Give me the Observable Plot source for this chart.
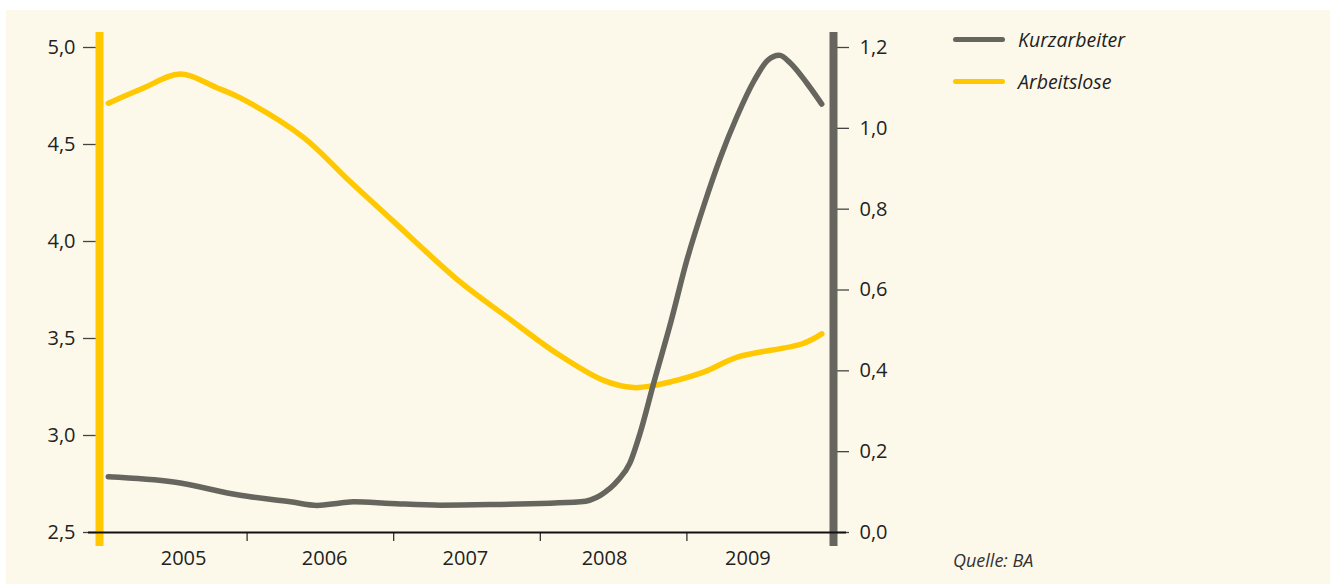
<!DOCTYPE html>
<html>
<head>
<meta charset="utf-8">
<script src="https://cdn.jsdelivr.net/npm/d3@7"></script>
<script src="https://cdn.jsdelivr.net/npm/@observablehq/plot@0.6"></script>
<style>
  html, body { margin: 0; padding: 0; background: #ffffff; }
  #wrap { position: relative; width: 1336px; height: 584px; overflow: hidden; font-family: "Open Sans", sans-serif; color: #222; }
  #bg { position: absolute; left: 6px; top: 10px; width: 1324px; height: 574px; background: #fdf9ea; }
  #chart { position: absolute; left: 0; top: 0; }
  .leg { position: absolute; left: 953px; height: 26px; display: flex; align-items: center; font-style: italic; font-size: 19.5px; color: #222; white-space: nowrap; }
  .sw { display: inline-block; width: 52px; height: 5px; border-radius: 3px; margin-right: 13px; }
  #src { position: absolute; left: 953px; top: 548px; font-style: italic; font-size: 18px; color: #333; }
</style>
</head>
<body>
<div id="wrap">
  <div id="bg"></div>
  <div id="chart"></div>
  <div class="leg" style="top:26px"><span class="sw" style="background:#66665f"></span>Kurzarbeiter</div>
  <div class="leg" style="top:68px"><span class="sw" style="background:#ffc800"></span>Arbeitslose</div>
  <div id="src">Quelle: BA</div>
</div>
<script>
// Kurzarbeiter (Mio., right axis) — time as fractional year
const kurzT = [2005.053, 2005.499, 2005.954, 2006.295, 2006.478, 2006.636, 2006.728, 2006.978, 2007.319, 2007.660, 2008.274, 2008.41, 2008.53, 2008.61, 2008.68, 2008.77, 2008.89, 2009.00, 2009.12, 2009.23, 2009.34, 2009.46, 2009.55, 2009.63, 2009.71, 2009.82, 2009.92];
const kurzV = [0.138, 0.125, 0.092, 0.076, 0.067, 0.073, 0.076, 0.072, 0.0675, 0.069, 0.076, 0.092, 0.129, 0.171, 0.245, 0.365, 0.52, 0.674, 0.814, 0.929, 1.028, 1.119, 1.168, 1.181, 1.160, 1.111, 1.060];

// Arbeitslose (Mio., left axis)
const alT = [2005.054, 2005.29, 2005.545, 2005.79, 2005.954, 2006.384, 2006.68, 2006.978, 2007.455, 2007.774, 2008.115, 2008.431, 2008.636, 2008.773, 2009.114, 2009.344, 2009.787, 2009.92];
const alV = [4.713, 4.79, 4.863, 4.794, 4.740, 4.537, 4.325, 4.118, 3.790, 3.610, 3.422, 3.284, 3.247, 3.258, 3.327, 3.404, 3.473, 3.524];

const leftTicks = [2.5, 3.0, 3.5, 4.0, 4.5, 5.0];
const rightTicks = [0.0, 0.2, 0.4, 0.6, 0.8, 1.0, 1.2];
const yearBounds = [2006, 2007, 2008, 2009];
const yearNames = ["2005", "2006", "2007", "2008", "2009"];
const yearLabelAt = [2005.567, 2006.529, 2007.489, 2008.438, 2009.416];

const seriesNames = ["Kurzarbeiter", "Arbeitslose"];

const leftMin = 2.5, leftMax = 5.0, rightMax = 1.2;
const toLeft = k => leftMin + k * (leftMax - leftMin) / rightMax;
const fromLeft = v => (v - leftMin) * rightMax / (leftMax - leftMin);
const fmt = v => (Math.round(v * 10) / 10).toFixed(1).replace(".", ",");

const kurz = kurzT.map((t, i) => ({t, v: toLeft(kurzV[i])}));
const al = alT.map((t, i) => ({t, v: alV[i]}));

const GRAY = "#66665f", YELLOW = "#ffc800";

const chart = Plot.plot({
  width: 1336,
  height: 584,
  marginLeft: 100,
  marginRight: 503,
  marginTop: 47,
  marginBottom: 52,
  x: {domain: [2005, 2010]},
  y: {domain: [leftMin, leftMax]},
  style: {background: "transparent", fontFamily: '"Open Sans", sans-serif', fontSize: "20px", color: "#222", overflow: "visible"},
  marks: [
    Plot.axisY({ticks: leftTicks, tickSize: 17, tickPadding: 8, tickFormat: fmt, label: null, stroke: "#444", strokeWidth: 1.3, fontSize: 20}),
    Plot.axisY({anchor: "right", ticks: rightTicks.map(toLeft), tickSize: 15, tickPadding: 11, tickFormat: d => fmt(fromLeft(d)), label: null, stroke: "#444", strokeWidth: 1.3, fontSize: 20}),
    Plot.axisX({ticks: yearBounds, tickSize: 9, tickFormat: () => "", label: null, stroke: "#222", strokeWidth: 1.2}),
    Plot.text(yearNames, {x: (d, i) => yearLabelAt[i], y: () => leftMin, dy: 26, text: d => d, fontSize: 20, fill: "#222"}),
    Plot.line(al, {x: "t", y: "v", curve: "catmull-rom", stroke: YELLOW, strokeWidth: 5.5, strokeLinecap: "round", strokeLinejoin: "round"}),
    Plot.line(kurz, {x: "t", y: "v", curve: "monotone-x", stroke: GRAY, strokeWidth: 5.5, strokeLinecap: "round", strokeLinejoin: "round"}),
    Plot.ruleX([2005], {stroke: YELLOW, strokeWidth: 8, insetTop: -15, insetBottom: -14, dx: -1}),
    Plot.ruleX([2010], {stroke: GRAY, strokeWidth: 8, insetTop: -15, insetBottom: -14}),
    Plot.ruleY([leftMin], {stroke: "#111", strokeWidth: 2.2, insetLeft: -12, insetRight: -13})
  ]
});
document.getElementById("chart").appendChild(chart);
</script>
</body>
</html>
